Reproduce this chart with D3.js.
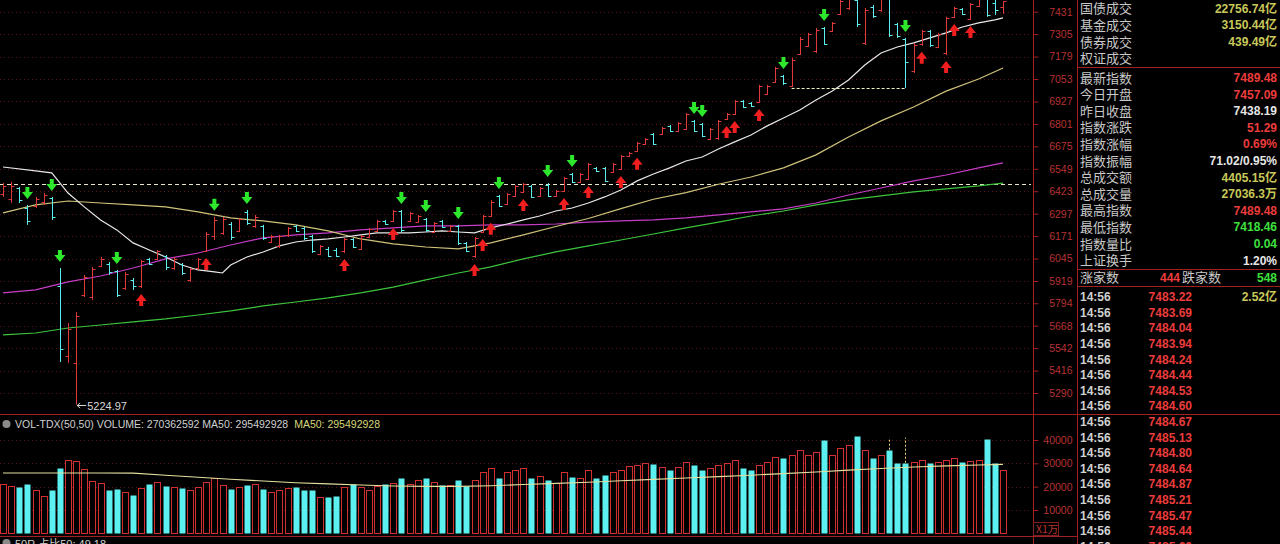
<!DOCTYPE html>
<html><head><meta charset="utf-8">
<script src="https://cdn.jsdelivr.net/npm/d3@7"></script>
<style>html,body{margin:0;padding:0;background:#000;overflow:hidden}</style>
</head><body><svg id="c" width="1280" height="544"></svg>
<script>
// ---------------- DATA ----------------
const opens = [6410,6380,6440,6330,6340,6360,6385,5890,5500,5460,5840,5830,6005,6015,5975,5880,5925,5890,6040,6045,6060,5990,6015,5925,5990,6090,6170,6190,6240,6200,6305,6225,6225,6140,6115,6175,6228,6215,6170,6072,6100,6095,6085,6155,6100,6168,6200,6258,6255,6310,6258,6250,6268,6195,6255,6200,6228,6130,6060,6195,6285,6395,6350,6398,6420,6452,6396,6460,6396,6425,6518,6475,6492,6555,6552,6532,6550,6620,6650,6688,6742,6745,6790,6762,6775,6815,6798,6718,6720,6828,6858,6930,6920,6925,6970,7038,7068,7015,7195,7240,7210,7338,7322,7420,7450,7495,7255,7460,7440,7500,7360,7275,7100,7248,7320,7235,7200,7402,7448,7392,7465,7505,7480,7457.09];
const highs = [6469,6475,6447,6346,6391,6413,6391,5992,5683,5745,5953,5998,6054,6026,5981,5970,5936,6037,6048,6093,6065,6054,6020,5992,6048,6194,6279,6279,6250,6273,6318,6290,6234,6178,6178,6222,6234,6222,6178,6121,6110,6104,6161,6161,6178,6217,6262,6262,6318,6318,6307,6290,6273,6250,6262,6234,6234,6138,6166,6290,6374,6402,6413,6458,6469,6458,6447,6469,6430,6503,6526,6526,6582,6559,6559,6582,6627,6644,6700,6722,6750,6784,6795,6812,6862,6823,6806,6778,6823,6862,6935,6935,6924,7020,7020,7121,7076,7171,7289,7312,7340,7345,7373,7520,7530,7510,7452,7469,7525,7515,7368,7284,7256,7329,7329,7312,7402,7458,7452,7480,7510,7515,7500,7489.48];
const lows = [6391,6357,6357,6234,6329,6346,6262,5464,5459,5224.97,5829,5813,5998,5953,5829,5869,5869,5880,6009,6037,5981,5981,5953,5914,5981,6082,6149,6178,6149,6194,6234,6217,6149,6133,6104,6166,6194,6149,6076,6065,6054,6054,6076,6104,6093,6161,6194,6234,6250,6194,6250,6245,6194,6189,6217,6194,6121,6082,6048,6189,6279,6335,6346,6391,6413,6385,6391,6391,6391,6419,6469,6469,6486,6531,6475,6526,6542,6615,6644,6683,6683,6739,6756,6756,6767,6756,6728,6711,6711,6823,6851,6891,6896,6919,6964,7031,7020,7008,7188,7233,7199,7244,7317,7413,7441,7345,7244,7396,7430,7289,7284,7003,7087,7240,7233,7227,7188,7396,7413,7385,7458,7402,7413,7418.46];
const closes = [6455,6455,6375,6255,6380,6400,6280,5535,5650,5720,5940,5985,6045,5970,5840,5960,5890,6030,6015,6085,5995,6045,5965,5985,6040,6185,6260,6265,6165,6265,6245,6280,6160,6170,6170,6215,6200,6160,6085,6115,6060,6062,6155,6112,6170,6210,6255,6240,6310,6205,6300,6285,6205,6245,6222,6228,6130,6090,6160,6282,6365,6342,6405,6450,6462,6392,6440,6398,6425,6495,6475,6520,6575,6536,6482,6576,6620,6640,6695,6718,6690,6778,6762,6806,6855,6762,6735,6770,6815,6858,6928,6896,6900,7012,7015,7115,7028,7160,7280,7305,7330,7252,7368,7490,7500,7360,7440,7405,7500,7300,7292,7150,7245,7320,7242,7305,7395,7450,7418,7472,7500,7410,7438.19,7489.48];
// volume in units of 万 (10k)
const volumes = [21100,20390,19960,21100,18670,16100,18670,28110,31540,31110,27680,22530,21670,18670,19100,17810,16520,19530,21250,22100,20390,19960,19530,18670,19960,22100,23820,20820,19100,19960,20820,21250,19100,17810,18670,19530,19960,18670,18670,15670,15670,16100,19960,21250,19960,18670,20390,21250,21670,23820,21250,22960,23820,22100,20820,20820,22960,20390,22960,26400,28110,23820,26400,27250,28110,23820,24680,22960,21670,26400,24250,23820,27250,23820,25110,26400,27250,28970,29400,30260,29830,28540,27250,28540,30690,29400,27250,28110,29400,30260,31540,28110,27250,29400,30690,32830,32400,33690,35840,33690,34980,40130,33690,36700,37980,41850,35840,32400,33690,35840,30260,30260,30690,31540,30260,30690,31540,32400,30690,31110,31540,40560,30260,27036];

// moving-average lines, sampled at bar indices
const maIdx = [0,4,8,12,16,20,24,28,32,36,40,44,48,52,56,60,64,68,72,76,80,84,88,92,96,100,104,108,112,116,120,123];
const maYellow  = [6301,6346,6368,6357,6346,6335,6307,6273,6256,6234,6200,6155,6127,6110,6099,6133,6178,6225,6270,6325,6378,6415,6462,6503,6554,6627,6728,6818,6896,6985,7053,7115];
const maMagenta = [5852,5869,5914,5947,5992,6043,6076,6121,6161,6178,6189,6206,6217,6228,6228,6234,6234,6239,6250,6256,6262,6273,6290,6307,6324,6357,6402,6441,6481,6514,6554,6582];
const maGreen   = [5616,5627,5655,5672,5689,5706,5728,5751,5779,5801,5824,5852,5885,5925,5964,5998,6043,6082,6116,6149,6183,6217,6250,6284,6312,6346,6374,6397,6419,6436,6453,6469];
const volMa     = [25850,25850,25850,25850,25800,24900,24000,23200,22400,21700,21200,20700,20300,20100,20100,20400,20900,21400,21900,22500,23100,23700,24300,24900,25600,26300,27100,27800,28400,28900,29300,29549];
const whiteIdx = [0,4,6,8,10,12,14,16,18,20,22,24,26,27,28,30,32,34,36,38,40,42,44,46,48,50,52,54,56,58,60,62,64,66,68,70,72,74,76,78,80,82,84,86,88,90,92,94,96,98,100,102,104,106,108,110,112,114,116,118,120,122,123];
const maWhite = [6559,6537,6526,6413,6335,6262,6206,6133,6093,6054,6009,5981,5970,5964,6009,6054,6082,6116,6138,6149,6155,6166,6178,6189,6189,6189,6194,6200,6194,6189,6217,6239,6262,6284,6312,6329,6357,6391,6430,6481,6520,6554,6593,6615,6660,6700,6739,6790,6834,6879,6935,6986,7048,7132,7199,7233,7256,7284,7312,7345,7368,7385,7396];

const sellIdx = [3,6,7,14,26,30,49,52,56,61,67,70,85,86,96,101,111];
const buyIdx  = [17,25,42,48,58,59,60,64,69,72,76,78,89,90,93,113,116,117,119];
const volMarkIdx = [109,111];
const volMarkLevel = 41000;

const priceTicks = [7431,7305,7179,7053,6927,6801,6675,6549,6423,6297,6171,6045,5919,5794,5668,5542,5416,5290];
const volTicks = [40000,30000,20000,10000];
const refLevel = 6464;
const gapFrom = 97, gapTo = 111;
const lowLabel = "5224.97";

const volHeader = "VOL-TDX(50,50) VOLUME: 270362592 MA50: 295492928";
const volHeaderMa = "MA50: 295492928";
const bottomText = "50R  占比50: 49.18";

const infoTop = [["国债成交","22756.74亿","y"],["基金成交","3150.44亿","y"],["债券成交","439.49亿","y"],["权证成交","",""]];
const infoMid = [["最新指数","7489.48","r"],["今日开盘","7457.09","r"],["昨日收盘","7438.19","w"],["指数涨跌","51.29","r"],["指数涨幅","0.69%","r"],["指数振幅","71.02/0.95%","w"],["总成交额","4405.15亿","y"],["总成交量","27036.3万","y"],["最高指数","7489.48","r"],["最低指数","7418.46","g"],["指数量比","0.04","g"],["上证换手","1.20%","w"]];
const upCount = "444", downCount = "548";
const tickTimes = ["14:56","14:56","14:56","14:56","14:56","14:56","14:56","14:56","14:56","14:56","14:56","14:56","14:56","14:56","14:56","14:56","14:56"];
const tickPrices = ["7483.22","7483.69","7484.04","7483.94","7484.24","7484.44","7484.53","7484.60","7484.67","7485.13","7484.80","7484.64","7484.87","7485.21","7485.47","7485.44","7485.60"];
const firstTickAmt = "2.52亿";

// ---------------- DRAW ----------------
const svg = d3.select("#c");
svg.append("rect").attr("width",1280).attr("height",544).attr("fill","#000");
const RED="#e23a3a", CYAN="#5cf0f0", AX="#a32020", GRID="#5e1515";
const colText={y:"#c8c85a",r:"#ec3c3c",w:"#e6e6e6",g:"#3ee03e"};

const n = opens.length;
const x = d3.scaleLinear().domain([0,n-1]).range([3,1003]);
const y = d3.scaleLinear().domain([5177.8,7496.7]).range([413,0]);
const yv = d3.scaleLinear().domain([0,40000]).range([533.3,440]);

svg.append("defs").append("clipPath").attr("id","pc").append("rect").attr("x",0).attr("y",0).attr("width",1031).attr("height",413);

// grid
const g = svg.append("g");
g.selectAll("line.pg").data(priceTicks).join("line")
  .attr("x1",0).attr("x2",1031).attr("y1",d=>Math.round(y(d))+0.5).attr("y2",d=>Math.round(y(d))+0.5)
  .attr("stroke",GRID).attr("stroke-dasharray","1,3");
g.selectAll("line.vg").data(volTicks).join("line")
  .attr("x1",0).attr("x2",1031).attr("y1",d=>Math.round(yv(d))+0.5).attr("y2",d=>Math.round(yv(d))+0.5)
  .attr("stroke",GRID).attr("stroke-dasharray","1,3");

// panel frames
svg.append("line").attr("x1",0).attr("x2",1280).attr("y1",414.5).attr("y2",414.5).attr("stroke",AX);
svg.append("line").attr("x1",0).attr("x2",1077).attr("y1",536.5).attr("y2",536.5).attr("stroke",AX);
svg.append("line").attr("x1",1033.5).attr("x2",1033.5).attr("y1",0).attr("y2",544).attr("stroke",AX);
svg.append("line").attr("x1",1077.5).attr("x2",1077.5).attr("y1",0).attr("y2",544).attr("stroke",AX);

// axes
const ay = svg.append("g").attr("transform","translate(1033.5,0)").call(d3.axisRight(y).tickValues(priceTicks).tickSize(5).tickFormat(d3.format("d")));
ay.select(".domain").remove();
ay.selectAll("line").attr("stroke",AX);
ay.selectAll("text").attr("fill","#b83232").attr("font-family","Liberation Sans, Arial").attr("font-size",10.5).attr("text-anchor","end").attr("x",39);
const av = svg.append("g").attr("transform","translate(1033.5,0)").call(d3.axisRight(yv).tickValues(volTicks).tickSize(5).tickFormat(d3.format("d")));
av.select(".domain").remove();
av.selectAll("line").attr("stroke",AX);
av.selectAll("text").attr("fill","#b83232").attr("font-family","Liberation Sans, Arial").attr("font-size",10.5).attr("text-anchor","end").attr("x",39);
svg.append("rect").attr("x",1033.5).attr("y",522.5).attr("width",25).attr("height",13).attr("fill","none").attr("stroke","#7a2020");
svg.append("text").attr("x",1036).attr("y",533).text("X1万").attr("fill","#b83232").attr("font-family","Noto Sans CJK SC").attr("font-size",10.5);

// price panel
const pp = svg.append("g").attr("clip-path","url(#pc)");
const line = (idx,vals)=>d3.line().x((d,i)=>x(idx[i])).y(d=>y(d))(vals);
pp.append("line").attr("x1",0).attr("x2",1031).attr("y1",Math.round(y(refLevel))+0.5).attr("y2",Math.round(y(refLevel))+0.5)
  .attr("stroke","#e8e8c8").attr("stroke-dasharray","4,3");
pp.append("path").attr("d",line(maIdx,maGreen)).attr("fill","none").attr("stroke","#3cc43c").attr("stroke-width",1.2);
pp.append("path").attr("d",line(maIdx,maMagenta)).attr("fill","none").attr("stroke","#c83cc8").attr("stroke-width",1.2);
pp.append("path").attr("d",line(maIdx,maYellow)).attr("fill","none").attr("stroke","#cfc27a").attr("stroke-width",1.2);
pp.append("path").attr("d",line(whiteIdx,maWhite)).attr("fill","none").attr("stroke","#e8e8e8").attr("stroke-width",1.2);
// gap dashed line
pp.append("line").attr("x1",x(gapFrom)).attr("x2",x(gapTo)).attr("y1",Math.round(y(lows[gapTo]))+0.5).attr("y2",Math.round(y(lows[gapTo]))+0.5)
  .attr("stroke","#f0f0c0").attr("stroke-dasharray","3,2");

// OHLC bars
const bars = pp.selectAll("g.bar").data(d3.range(n)).join("g");
const col = i=> closes[i]>=opens[i]?RED:CYAN;
const cx = i=> Math.round(x(i))+0.5;
bars.append("line").attr("x1",cx).attr("x2",cx).attr("y1",i=>y(highs[i])).attr("y2",i=>y(lows[i])).attr("stroke",col);
bars.append("line").attr("x1",i=>cx(i)-3).attr("x2",cx).attr("y1",i=>Math.round(y(opens[i]))+0.5).attr("y2",i=>Math.round(y(opens[i]))+0.5).attr("stroke",col);
bars.append("line").attr("x1",cx).attr("x2",i=>cx(i)+3).attr("y1",i=>Math.round(y(closes[i]))+0.5).attr("y2",i=>Math.round(y(closes[i]))+0.5).attr("stroke",col);

// signal arrows
const downArrow=(c,m)=>`M${c-2},${m-6}L${c+2},${m-6}L${c+2},${m-1}L${c+5.5},${m-1}L${c},${m+6}L${c-5.5},${m-1}L${c-2},${m-1}Z`;
const upArrow=(c,m)=>`M${c-2},${m+6}L${c+2},${m+6}L${c+2},${m+1}L${c+5.5},${m+1}L${c},${m-6}L${c-5.5},${m+1}L${c-2},${m+1}Z`;
pp.selectAll("path.s").data(sellIdx).join("path").attr("d",i=>downArrow(x(i),y(highs[i])-12)).attr("fill","#2ee82e");
pp.selectAll("path.b").data(buyIdx).join("path").attr("d",i=>upArrow(x(i),y(lows[i])+12)).attr("fill","#f01e1e");

// low label
const li = lows.indexOf(d3.min(lows));
const ly = Math.round(y(lows[li]))+0.5;
pp.append("line").attr("x1",x(li)+1).attr("x2",x(li)+10).attr("y1",ly).attr("y2",ly).attr("stroke","#d8d8d8");
pp.append("path").attr("d",`M${x(li)+1},${ly}L${x(li)+4},${ly-2.5}M${x(li)+1},${ly}L${x(li)+4},${ly+2.5}`).attr("stroke","#d8d8d8").attr("fill","none");
pp.append("text").attr("x",x(li)+11).attr("y",ly+4).text(lowLabel).attr("fill","#d8d8d8").attr("font-family","Liberation Sans, Arial").attr("font-size",11);

// volume panel
const vp = svg.append("g");
vp.selectAll("rect.v").data(d3.range(n)).join("rect")
  .attr("x",i=>Math.round(x(i))-2.5).attr("width",6)
  .attr("y",i=>Math.round(yv(volumes[i]))+0.5).attr("height",i=>Math.max(0,Math.round(yv(0))-Math.round(yv(volumes[i]))))
  .attr("fill",i=>col(i)===RED?"#000":CYAN).attr("stroke",i=>col(i)===RED?"#d03030":"none");
vp.selectAll("line.vm").data(volMarkIdx).join("line")
  .attr("x1",i=>Math.round(x(i))+0.5).attr("x2",i=>Math.round(x(i))+0.5)
  .attr("y1",i=>yv(volumes[i])).attr("y2",yv(volMarkLevel))
  .attr("stroke","#e6d47a").attr("stroke-dasharray","2,2");
vp.append("path").attr("d",d3.line().x((d,i)=>x(maIdx[i])).y(d=>yv(d))(volMa)).attr("fill","none").attr("stroke","#e2e0a0").attr("stroke-width",1.1);

// volume header
svg.append("circle").attr("cx",6.5).attr("cy",424).attr("r",4).attr("fill","#8a8a8a");
const h1 = svg.append("text").attr("x",15).attr("y",428).text(volHeader).attr("fill","#d0d0d0").attr("font-family","Liberation Sans, Arial").attr("font-size",10.5);
const w1 = h1.node().getComputedTextLength();
svg.append("text").attr("x",15+w1+6).attr("y",428).text(volHeaderMa).attr("fill","#d6d67a").attr("font-family","Liberation Sans, Arial").attr("font-size",10.5);
svg.append("circle").attr("cx",6.5).attr("cy",543).attr("r",4).attr("fill","#8a8a8a");
svg.append("text").attr("x",15).attr("y",548).text(bottomText).attr("fill","#d0d0d0").attr("font-family","Liberation Sans, Noto Sans CJK SC").attr("font-size",11);

// right info panel
const rp = svg.append("g");
const lab = {fill:"#c8c8c8","font-family":"Noto Sans CJK SC","font-size":13};
const num = {"font-family":"Liberation Sans, Arial","font-size":12,"font-weight":"bold","text-anchor":"end"};
function put(sel,attrs){for(const k in attrs) sel.attr(k,attrs[k]); return sel;}
infoTop.forEach((r,k)=>{
  const yy = 8.3+16.6*k;
  put(rp.append("text").attr("x",1080).attr("y",yy+5).text(r[0]),lab);
  if(r[1]) put(rp.append("text").attr("x",1277).attr("y",yy+4.5).text(r[1]).attr("fill",colText[r[2]]),num).attr("font-family","Liberation Sans, Noto Sans CJK SC");
});
rp.append("line").attr("x1",1077).attr("x2",1280).attr("y1",67.5).attr("y2",67.5).attr("stroke",AX);
infoMid.forEach((r,k)=>{
  const yy = 77.5+16.6*k;
  put(rp.append("text").attr("x",1080).attr("y",yy+5).text(r[0]),lab);
  put(rp.append("text").attr("x",1277).attr("y",yy+4.5).text(r[1]).attr("fill",colText[r[2]]),num).attr("font-family","Liberation Sans, Noto Sans CJK SC");
});
rp.append("line").attr("x1",1077).attr("x2",1280).attr("y1",269.5).attr("y2",269.5).attr("stroke",AX);
put(rp.append("text").attr("x",1080).attr("y",282).text("涨家数"),lab);
put(rp.append("text").attr("x",1180).attr("y",281.5).text(upCount).attr("fill",colText.r),num);
put(rp.append("text").attr("x",1182).attr("y",282).text("跌家数"),lab);
put(rp.append("text").attr("x",1277).attr("y",281.5).text(downCount).attr("fill",colText.g),num);
rp.append("line").attr("x1",1077).attr("x2",1280).attr("y1",286.5).attr("y2",286.5).attr("stroke",AX);
tickTimes.forEach((t,k)=>{
  const yy = 296.7+15.6*k;
  put(rp.append("text").attr("x",1080).attr("y",yy+4.5).text(t).attr("fill","#d0d0d0"),num).attr("text-anchor","start");
  put(rp.append("text").attr("x",1192).attr("y",yy+4.5).text(tickPrices[k]).attr("fill",colText.r),num);
});
put(rp.append("text").attr("x",1277).attr("y",296.7+4.5).text(firstTickAmt).attr("fill",colText.y),num).attr("font-family","Liberation Sans, Noto Sans CJK SC");
</script></body></html>
